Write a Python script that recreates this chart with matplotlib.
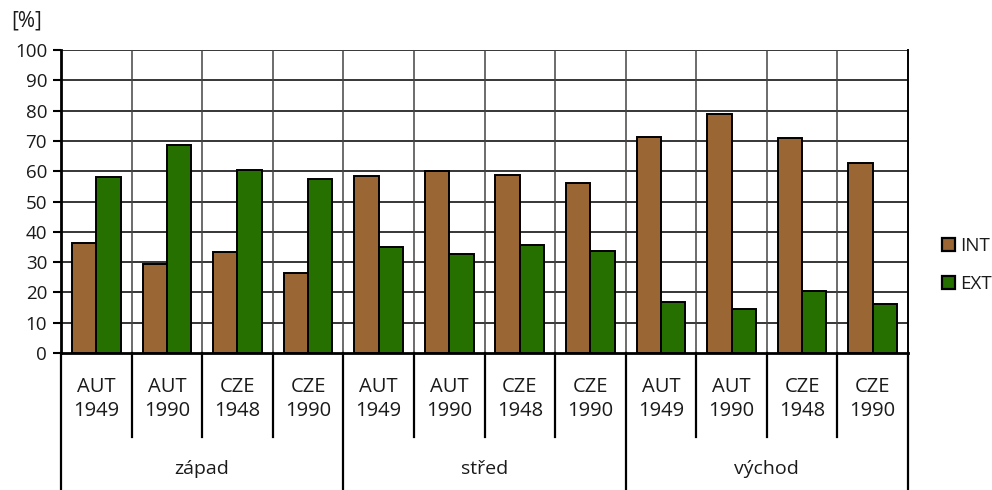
import matplotlib
matplotlib.use("Agg")
import matplotlib.pyplot as plt
import matplotlib.transforms as mtransforms
from matplotlib.patches import Patch
import numpy as np

plt.rcParams['font.family'] = ['Open Sans', 'DejaVu Sans']

groups = ["západ", "střed", "východ"]
categories = ["AUT\n1949", "AUT\n1990", "CZE\n1948", "CZE\n1990"] * 3
int_values = [36.3, 29.4, 33.3, 26.4,
              58.4, 60.1, 58.7, 56.0,
              71.4, 78.9, 71.0, 62.7]
ext_values = [58.1, 68.6, 60.4, 57.4,
              34.9, 32.7, 35.6, 33.7,
              16.7, 14.6, 20.6, 16.1]
series_names = ["INT", "EXT"]
y_ticks = list(range(0, 101, 10))

INT_COLOR = "#9a6633"
EXT_COLOR = "#267000"
TEXT_COLOR = "#1a1a1a"

W, H = 992, 490
fig = plt.figure(figsize=(W / 100, H / 100), dpi=100)
left, right, top, bottom = 61, 908, 50, 353
ax = fig.add_axes([left / W, (H - bottom) / H, (right - left) / W, (bottom - top) / H])

n = len(categories)
x = np.arange(n) + 0.5
bw = 0.345
ax.bar(x - bw / 2, int_values, bw, color=INT_COLOR, edgecolor="black", linewidth=1.4, zorder=3, label=series_names[0])
ax.bar(x + bw / 2, ext_values, bw, color=EXT_COLOR, edgecolor="black", linewidth=1.4, zorder=3, label=series_names[1])

ax.set_xlim(0, n)
ax.set_ylim(0, 100)
ax.set_yticks(y_ticks)
ax.tick_params(axis="y", direction="out", length=6, width=1.5, labelsize=13.5, labelcolor=TEXT_COLOR, pad=4)
ax.set_xticks([])

# horizontal grid
for v in y_ticks[1:]:
    ax.axhline(v, color="black", linewidth=1.1, zorder=1)

# vertical separators inside the plot
for b in range(1, n):
    ax.axvline(b, color="#444444", linewidth=1.1, zorder=1)

ax.spines["top"].set_visible(False)
ax.spines["left"].set_linewidth(2)
ax.spines["bottom"].set_linewidth(2)
ax.spines["right"].set_linewidth(1.4)

# category / group separators below the axis
trans = mtransforms.blended_transform_factory(ax.transData, ax.transAxes)
cat_bottom = (bottom - 437) / (bottom - top)
grp_bottom = (bottom - H) / (bottom - top)
for b in range(0, n + 1):
    end = grp_bottom if b % 4 == 0 else cat_bottom
    ax.plot([b, b], [0, end], color="black", linewidth=1.6, transform=trans, clip_on=False)

cat_y = (bottom - 399) / (bottom - top)
for xi, lab in zip(x, categories):
    ax.text(xi, cat_y, lab, transform=trans, ha="center", va="center", fontsize=14.5,
            color=TEXT_COLOR, linespacing=1.25)

grp_y = (bottom - 469) / (bottom - top)
for gi, g in enumerate(groups):
    ax.text(gi * 4 + 2, grp_y, g, transform=trans, ha="center", va="center", fontsize=14,
            color=TEXT_COLOR)

fig.text(11 / W, (H - 21) / H, "[%]", ha="left", va="center", fontsize=15, color=TEXT_COLOR)

handles = [Patch(facecolor=INT_COLOR, edgecolor="black", linewidth=1.6),
           Patch(facecolor=EXT_COLOR, edgecolor="black", linewidth=1.6)]
fig.legend(handles, series_names, loc="center left", bbox_to_anchor=(942 / W, (H - 265) / H),
           frameon=False, fontsize=13.5, handlelength=0.7, handleheight=0.7,
           handletextpad=0.25, labelspacing=1.05, borderpad=0, borderaxespad=0,
           labelcolor=TEXT_COLOR)

fig.savefig("out.png", dpi=100)
